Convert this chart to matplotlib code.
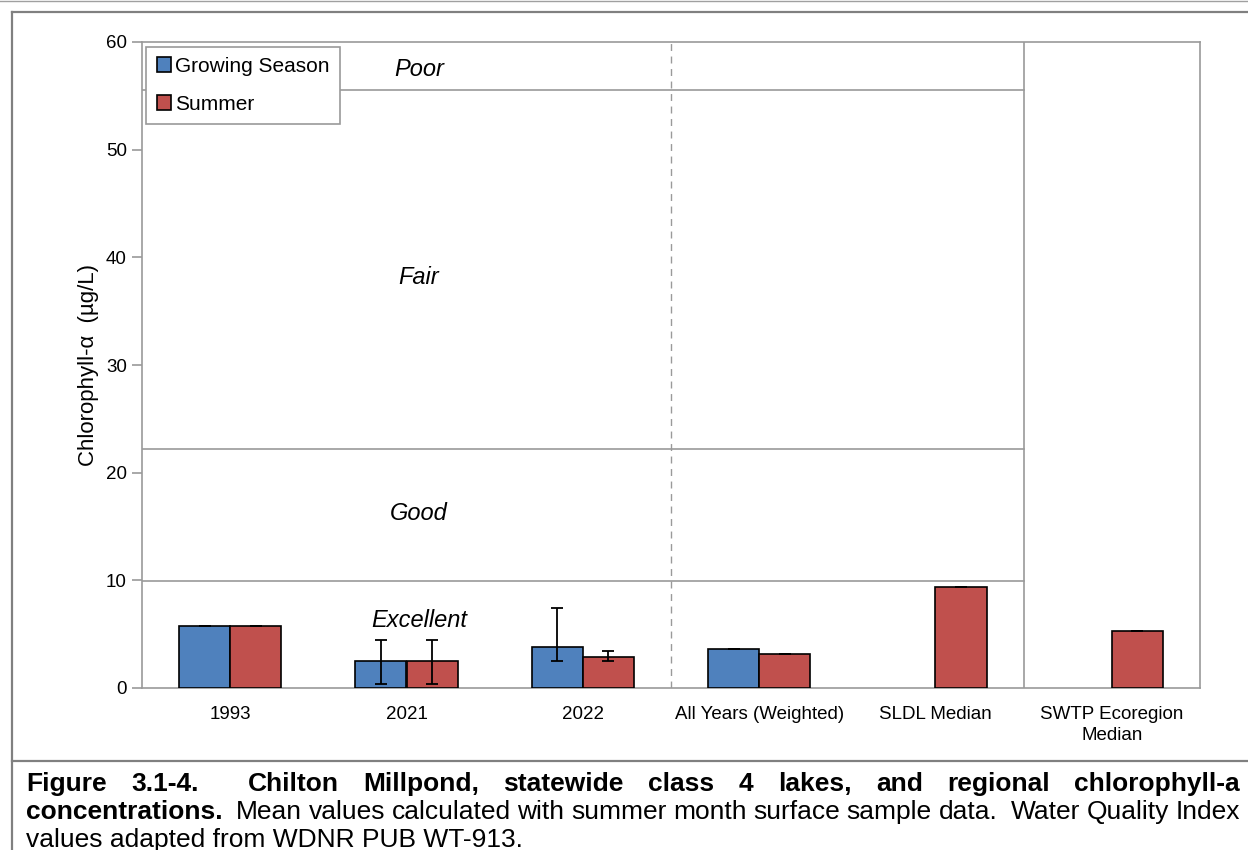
import numpy as np
import matplotlib
matplotlib.use('Agg')
import matplotlib.pyplot as plt
from matplotlib.lines import Line2D

plt.rcParams['font.family'] = ['Liberation Sans', 'DejaVu Sans']

# dados do gráfico
categorias = ['1993', '2021', '2022', 'All Years (Weighted)', 'SLDL Median', 'SWTP Ecoregion\nMedian']
growing_season = [5.8, 2.5, 3.8, 3.6, np.nan, np.nan]
summer = [5.8, 2.5, 2.9, 3.2, 9.4, 5.3]
gs_err_baixo = [0.0, 2.1, 1.3, 0.0, np.nan, np.nan]
gs_err_alto = [0.0, 2.0, 3.6, 0.0, np.nan, np.nan]
su_err_baixo = [0.0, 2.1, 0.4, 0.0, 0.0, 0.0]
su_err_alto = [0.0, 2.0, 0.55, 0.0, 0.0, 0.0]

# limites das classes de qualidade (Excellent / Good / Fair / Poor)
limites = [9.9, 22.2, 55.5]
classes = ['Excellent', 'Good', 'Fair', 'Poor']
classes_y = [6.3, 16.2, 38.1, 57.4]

azul = '#4F81BD'
vermelho = '#C0504D'
cinza = '#9a9a9a'

fig = plt.figure(figsize=(12.48, 8.5), dpi=100)
W, H = 1248, 850
ax = fig.add_axes([142 / W, 1 - 688 / H, 1058 / W, 646 / H])

x = np.arange(len(categorias))
largura = 0.29

ax.bar(x - largura / 2, growing_season, largura, color=azul, edgecolor='black',
       linewidth=1.2, label='Growing Season', zorder=3)
ax.bar(x + largura / 2, summer, largura, color=vermelho, edgecolor='black',
       linewidth=1.2, label='Summer', zorder=3)

ax.errorbar(x - largura / 2, growing_season, yerr=[gs_err_baixo, gs_err_alto], fmt='none',
            ecolor='black', elinewidth=1.3, capsize=4.5, capthick=1.3, zorder=4)
ax.errorbar(x + largura / 2, summer, yerr=[su_err_baixo, su_err_alto], fmt='none',
            ecolor='black', elinewidth=1.3, capsize=4.5, capthick=1.3, zorder=4)

# linhas das classes e divisores
for lim in limites:
    ax.plot([-0.5, 4.5], [lim, lim], color=cinza, linewidth=1.2, zorder=1)
ax.plot([4.5, 4.5], [0, 60], color=cinza, linewidth=1.2, zorder=1)
ax.plot([2.5, 2.5], [0, 60], color=cinza, linewidth=1.0, linestyle=(0, (5, 4)), zorder=1)

for nome, yy in zip(classes, classes_y):
    ax.text(1.07, yy, nome, fontsize=17, style='italic', ha='center', va='center', zorder=5)

ax.set_xlim(-0.5, 5.5)
ax.set_ylim(0, 60)
ax.set_yticks(range(0, 61, 10))
ax.set_xticks(x)
ax.set_xticklabels(categorias, fontsize=13.5, linespacing=1.3)
ax.tick_params(axis='x', length=0, pad=13)
ax.tick_params(axis='y', length=7, color=cinza, width=1.2, labelsize=13.5, pad=4)

for lado in ax.spines.values():
    lado.set_color(cinza)
    lado.set_linewidth(1.2)

ax.set_ylabel('Chlorophyll-α  (µg/L)', fontsize=16)
ax.yaxis.set_label_coords(-0.041, 0.5)

leg = ax.legend(loc='upper left', bbox_to_anchor=(0.004, 0.993), fontsize=15, frameon=True,
                fancybox=False, edgecolor=cinza, framealpha=1, handlelength=0.7,
                handleheight=0.7, handletextpad=0.2, labelspacing=0.9, borderpad=0.5,
                borderaxespad=0)
leg.get_frame().set_linewidth(1.2)
leg.set_zorder(6)

# moldura da figura
moldura = '#808080'
fig.add_artist(Line2D([0, 1], [1 - 0.5 / H, 1 - 0.5 / H], color='#a0a0a0', linewidth=1.0))
fig.add_artist(Line2D([12 / W, 1], [1 - 12 / H, 1 - 12 / H], color=moldura, linewidth=1.6))
fig.add_artist(Line2D([12 / W, 12 / W], [0, 1 - 12 / H], color=moldura, linewidth=1.6))
fig.add_artist(Line2D([12 / W, 1], [1 - 761 / H, 1 - 761 / H], color=moldura, linewidth=1.6))

# legenda da figura, justificada
renderer = fig.canvas.get_renderer()
tam_legenda = 19


def linha_justificada(palavras, y_px, x0=26, x1=1240, pesos=None):
    textos = []
    larguras = []
    for palavra, negrito in palavras:
        t = fig.text(0, 1 - y_px / H, palavra, fontsize=tam_legenda,
                     fontweight='bold' if negrito else 'normal', va='center', ha='left')
        textos.append(t)
        larguras.append(t.get_window_extent(renderer).width)
    if pesos is None:
        pesos = [1] * (len(palavras) - 1)
    espaco = (x1 - x0 - sum(larguras)) / sum(pesos)
    pos = x0
    for i, t in enumerate(textos):
        t.set_x(pos / W)
        if i < len(pesos):
            pos += larguras[i] + espaco * pesos[i]


linha1 = ['Figure', '3.1-4.', 'Chilton', 'Millpond,', 'statewide', 'class', '4', 'lakes,',
          'and', 'regional', 'chlorophyll-a']
linha_justificada([(p, True) for p in linha1], 784, pesos=[1, 2, 1, 1, 1, 1, 1, 1, 1, 1])

linha2 = [('concentrations.', True)] + [(p, False) for p in
          'Mean values calculated with summer month surface sample data. Water Quality Index'.split()]
pesos2 = [2] + [1] * 8 + [2] + [1] * 2
linha_justificada(linha2, 812, pesos=pesos2)

fig.text(26 / W, 1 - 840 / H, 'values adapted from WDNR PUB WT-913.', fontsize=tam_legenda,
         va='center', ha='left')

plt.savefig('out.png', dpi=100)
plt.close()
